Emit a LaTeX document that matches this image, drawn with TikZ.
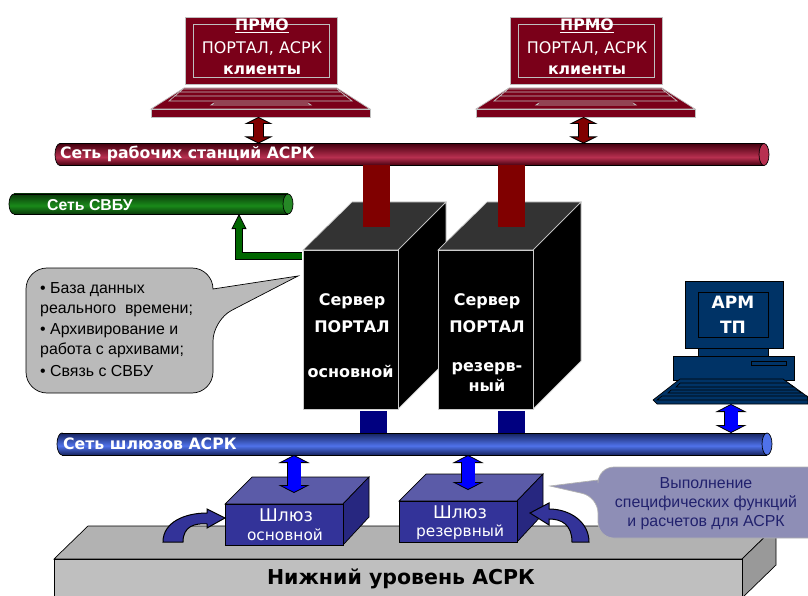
\documentclass[tikz,border=0pt]{standalone}
\usepackage{fontspec}
\setmainfont{Liberation Sans}
\newfontfamily\dvs{DejaVu Sans}
\usetikzlibrary{arrows.meta,shapes.geometric}
\definecolor{lapred}{HTML}{7A0019}
\definecolor{barred}{HTML}{800000}
\definecolor{pcblue}{HTML}{003366}
\definecolor{gwfront}{HTML}{333399}
\definecolor{gwtop}{HTML}{5B5BA8}
\definecolor{gwside}{HTML}{272780}
\definecolor{calloutblue}{HTML}{8E8EB6}
\definecolor{reddark}{HTML}{45000F}
\definecolor{redlight}{HTML}{B83050}
\definecolor{greendark}{HTML}{0A3A0A}
\definecolor{greenlight}{HTML}{1A8A1A}
\definecolor{bluedark}{HTML}{16235F}
\definecolor{bluelight}{HTML}{4F72EA}
\pgfdeclareverticalshading{redpipe}{100bp}{color(0bp)=(reddark);color(25bp)=(reddark);color(44bp)=(redlight);color(75bp)=(reddark);color(100bp)=(reddark)}
\pgfdeclareverticalshading{greenpipe}{100bp}{color(0bp)=(greendark);color(25bp)=(greendark);color(46bp)=(greenlight);color(75bp)=(greendark);color(100bp)=(greendark)}
\pgfdeclareverticalshading{bluepipe}{100bp}{color(0bp)=(bluedark);color(25bp)=(bluedark);color(46bp)=(bluelight);color(75bp)=(bluedark);color(100bp)=(bluedark)}
\begin{document}
\begin{tikzpicture}[
    x=1pt, y=-1pt,
    pipe/.style={rectangle, inner sep=0pt, outer sep=0pt},
    pipeend/.style={ellipse, draw=black, line width=0.7pt, inner sep=0pt, outer sep=0pt, minimum width=10pt},
    nettext/.style={anchor=west, inner sep=0pt, text=white, font=\dvs\bfseries\fontsize{15.7}{18}\selectfont},
    laptop/.style={draw=black!25, line width=0.7pt, fill=lapred},
    laptext/.style={text=white, inner sep=0pt, font=\dvs\fontsize{16}{18}\selectfont},
    srvface/.style={draw=black!20, line width=0.7pt, fill=black, inner sep=0pt, outer sep=0pt, minimum width=95pt, minimum height=159pt},
    srvtop/.style={draw=black!20, line width=0.7pt, fill=black!80},
    srvside/.style={draw=black!20, line width=0.7pt, fill=black},
    srvtext/.style={text=white, inner sep=0pt, align=center, font=\dvs\bfseries\fontsize{16}{27}\selectfont},
    pcpart/.style={draw=black, line width=0.7pt, fill=pcblue},
    gwface/.style={draw=black, line width=0.7pt, fill=gwfront, inner sep=0pt, outer sep=0pt, minimum width=118pt, minimum height=41pt},
    gwtopface/.style={draw=black, line width=0.7pt, fill=gwtop},
    gwsideface/.style={draw=black, line width=0.7pt, fill=gwside},
    gwtext/.style={text=white, inner sep=0pt, align=center, font=\dvs},
    turnarrow/.style={draw=black, line width=1pt, fill=gwfront},
    dblarrow/.style={draw=#1, line width=9.5pt,
        {Triangle[length=7pt,width=28pt,line width=0.8pt,color=black,fill=#1]}-{Triangle[length=7pt,width=28pt,line width=0.8pt,color=black,fill=#1]},
        preaction={draw=black, line width=11pt, -, shorten >=6pt, shorten <=6pt},
        postaction={draw=#1, line width=9.5pt, -, shorten >=5pt, shorten <=5pt}},
    bluearrow/.style={draw=blue, line width=13pt,
        {Triangle[length=8pt,width=31pt,line width=0.8pt,color=black,fill=blue]}-{Triangle[length=8pt,width=31pt,line width=0.8pt,color=black,fill=blue]},
        preaction={draw=black, line width=14.6pt, -, shorten >=7pt, shorten <=7pt},
        postaction={draw=blue, line width=13pt, -, shorten >=6pt, shorten <=6pt}},
    grnarrow/.style={draw=black!60!green, line width=6.5pt, miter limit=10,
        -{Triangle[length=15pt,width=15pt,line width=0.8pt,color=black,fill=black!60!green]},
        preaction={draw=black, line width=8pt, -, shorten >=12pt},
        postaction={draw=black!60!green, line width=6.5pt, -, shorten >=13pt}}
]
\useasboundingbox (0,0) rectangle (808,596);

% Lower level
\fill[black!30, draw=black, line width=0.7pt] (54,559) -- (88,526) -- (776,526) -- (742,559) -- cycle;
\fill[black!40, draw=black, line width=0.7pt] (742,559) -- (776,526) -- (776,565) -- (742,598) -- cycle;
\node[draw=black, line width=0.7pt, fill=black!25, inner sep=0pt, minimum width=688pt, minimum height=42pt] (lower) at (398,580) {};
\node[inner sep=0pt, font=\dvs\bfseries\fontsize{20.5}{24}\selectfont] (lowertext) at (401,579) {Нижний уровень АСРК};

% Networks
\foreach \n/\xa/\xb/\yc/\hh/\shd/\capc in {netw/55/769/154.5/22/redpipe/redlight,
                                           nets/9/293/204/20/greenpipe/green!45!black!85!white,
                                           netg/57/772/444/22/bluepipe/bluelight} {
    \node[pipeend, shading=\shd, minimum height=\hh] (\n-l) at (\xa+5,\yc) {};
    \node[pipe, shading=\shd, minimum width=\xb-\xa-10, minimum height=\hh] (\n) at ({(\xa+\xb)/2},\yc) {};
    \draw[line width=0.7pt] (\n.north west) -- (\n.north east) (\n.south west) -- (\n.south east);
    \node[pipeend, fill=\capc, minimum height=\hh] (\n-r) at (\xb-5,\yc) {};
}
\node[nettext] (netwtext) at (60,154) {Сеть рабочих станций АСРК};
\node[nettext, font=\bfseries\fontsize{15.8}{18}\selectfont] (netstext) at (47,205) {Сеть СВБУ};
\node[nettext] (netgtext) at (63,444) {Сеть шлюзов АСРК};

% Laptops
\foreach \n/\sx in {1/0,2/325} {
    \begin{scope}[xshift=\sx]
        \node[laptop, inner sep=0pt, minimum width=152pt, minimum height=67pt] (lapscr-\n) at (261,50.5) {};
        \draw[draw=black!25, line width=0.7pt] (193,24) rectangle (329,77);
        \draw[laptop] (184,88) -- (337,88) -- (370,109) -- (151,109) -- cycle;
        \node[laptop, inner sep=0pt, outer sep=0pt, minimum width=219pt, minimum height=8pt] (lapbase-\n) at (260.5,113) {};
        \draw[draw=black!25, line width=0.7pt] (183,89) -- (337,89) -- (352,101) -- (169,101) -- cycle
            (179,92) -- (341,92) (174,96) -- (347,96) (211,105) -- (214,103) -- (308,103) -- (311,105) -- cycle;
        \node[laptext, font=\dvs\bfseries\fontsize{15.7}{18}\selectfont] (lapa-\n) at (262,26) {\underline{ПРМО}};
        \node[laptext] (lapb-\n) at (262,48) {ПОРТАЛ, АСРК};
        \node[laptext, font=\dvs\bfseries\fontsize{15.7}{18}\selectfont] (lapc-\n) at (262,70.5) {клиенты};
    \end{scope}
}

% Servers
\foreach \n/\sx in {1/0,2/135} {
    \begin{scope}[xshift=\sx]
        \draw[srvtop] (303,250) -- (352,202) -- (446,202) -- (398,250) -- cycle;
        \draw[srvside] (398,250) -- (446,202) -- (446,361) -- (398,409) -- cycle;
        \node[srvface] (srv-\n) at (350.5,329.5) {};
        \node[srvtext] (srvtext-\n) at (352,313) {Сервер\\ПОРТАЛ};
    \end{scope}
}
\node[srvtext] (srvtype-1) at (350.5,371) {основной};
\node[srvtext, font=\dvs\bfseries\fontsize{16}{20}\selectfont] (srvtype-2) at (487,377) {резерв-\\ный};

\coordinate (redbar-1) at (376.5,227);
\coordinate (redbar-2) at (511.5,227);
\coordinate (bluebar-1) at (373.5,411);
\coordinate (bluebar-2) at (511.5,411);

% PC
\node[pcpart, inner sep=0pt, minimum width=98pt, minimum height=67pt] (pcscr) at (734,314.5) {};
\node[pcpart, inner sep=0pt, minimum width=70pt, minimum height=45pt, align=center, text=white, font=\dvs\bfseries\fontsize{17}{25}\selectfont] (pcin) at (733,314.5) {АРМ\\ТП};
\draw[pcpart] (698,348) rectangle (768,356);
\draw[pcpart] (673,356) rectangle (794,380);
\draw[pcpart] (751,361) rectangle (786,365);
\draw[pcpart, line join=round] (680,379) -- (783,379) -- (808,397) -- (808,404) -- (657,404) -- (653,400) -- cycle;
\coordinate (pckey) at (731,404);
\foreach \ya/\yb/\xa/\xb/\xc/\xd in {383/387/680/788/676/794, 390/393/671/797/668/802, 396/400/662/807/657/808} {
    \draw[pcpart] (\xa,\ya) -- (\xb,\ya) -- (\xd,\yb) -- (\xc,\yb) -- cycle;
}

% Gateways
\foreach \n/\sx/\sy in {1/0/0,2/174/-3} {
    \begin{scope}[xshift=\sx, yshift=-\sy]
        \draw[gwtopface] (225,504) -- (252,477) -- (369,477) -- (343,504) -- cycle;
        \draw[gwsideface] (343,504) -- (369,477) -- (369,517) -- (343,545) -- cycle;
        \node[gwface] (gw-\n) at (284,524.5) {};
    \end{scope}
}
\node[gwtext, font=\dvs\fontsize{17.5}{20}\selectfont] (gwa-1) at (286,515) {Шлюз};
\node[gwtext, font=\dvs\fontsize{15.4}{17}\selectfont] (gwb-1) at (285,535) {основной};
\node[gwtext, font=\dvs\fontsize{17.5}{20}\selectfont] (gwa-2) at (460,512) {Шлюз};
\node[gwtext, font=\dvs\fontsize{15.4}{17}\selectfont] (gwb-2) at (460,532) {резервный};
\coordinate (gwtop-1) at (294,493);
\coordinate (gwtop-2) at (468,490);

% Callouts
\draw[fill=black!27, line width=0.7pt] [rounded corners=21] (213,289) -- (213,268) -- (26,268) -- (26,393) -- (213,393) -- (213,320) [sharp corners] -- (298,276) -- cycle;
\node[anchor=west, inner sep=0pt, align=left, font=\fontsize{15.9}{20}\selectfont] (dbtext) at (40,329.5) {• База данных\\реального\ \ времени;\\[1pt]• Архивирование и\\работа с архивами;\\[2pt]• Связь с СВБУ};
\draw[fill=calloutblue, draw=black!30, line width=0.7pt] [rounded corners=16] (598,480) -- (598,467) -- (830,467) -- (830,538) -- (598,538) -- (598,497) [sharp corners] -- (550,486) -- cycle;
\node[align=center, inner sep=0pt, text=gwside!85!black, font=\fontsize{15.9}{19}\selectfont] (fntext) at (706,504) {Выполнение\\специфических функций\\и расчетов для АСРК};

\draw[turnarrow] (163,542) .. controls (163,522) and (185,513) .. (207,513) -- (207,509) -- (225,518) -- (207,528) -- (207,524) .. controls (195,523) and (183,526) .. (183,542) -- cycle;
\draw[turnarrow] (589,542) .. controls (589,522) and (570,509) .. (549,509) -- (549,503) -- (530,513) -- (549,525) -- (549,519) .. controls (562,519) and (572,525) .. (572,542) -- cycle;

% Connections
\foreach \n in {1,2} {
    \draw[barred, line width=26.5pt] (redbar-\n |- netw.south) -- (redbar-\n);
    \draw[blue!50!black, line width=26.5pt] (bluebar-\n) -- (bluebar-\n |- netg.north);
    \draw[dblarrow=barred] ([xshift=-2pt]lapbase-\n.south) -- ([xshift=-2pt]lapbase-\n.south |- netw.north);
    \draw[bluearrow] (gwtop-\n) -- (gwtop-\n |- netg.south);
}
\draw[bluearrow] (pckey) -- (pckey |- netg.north);
\coordinate (srvexit) at (302,256);
\coordinate (netsin) at (239,214);
\draw[grnarrow] (srvexit) -| (netsin);

\end{tikzpicture}
\end{document}
